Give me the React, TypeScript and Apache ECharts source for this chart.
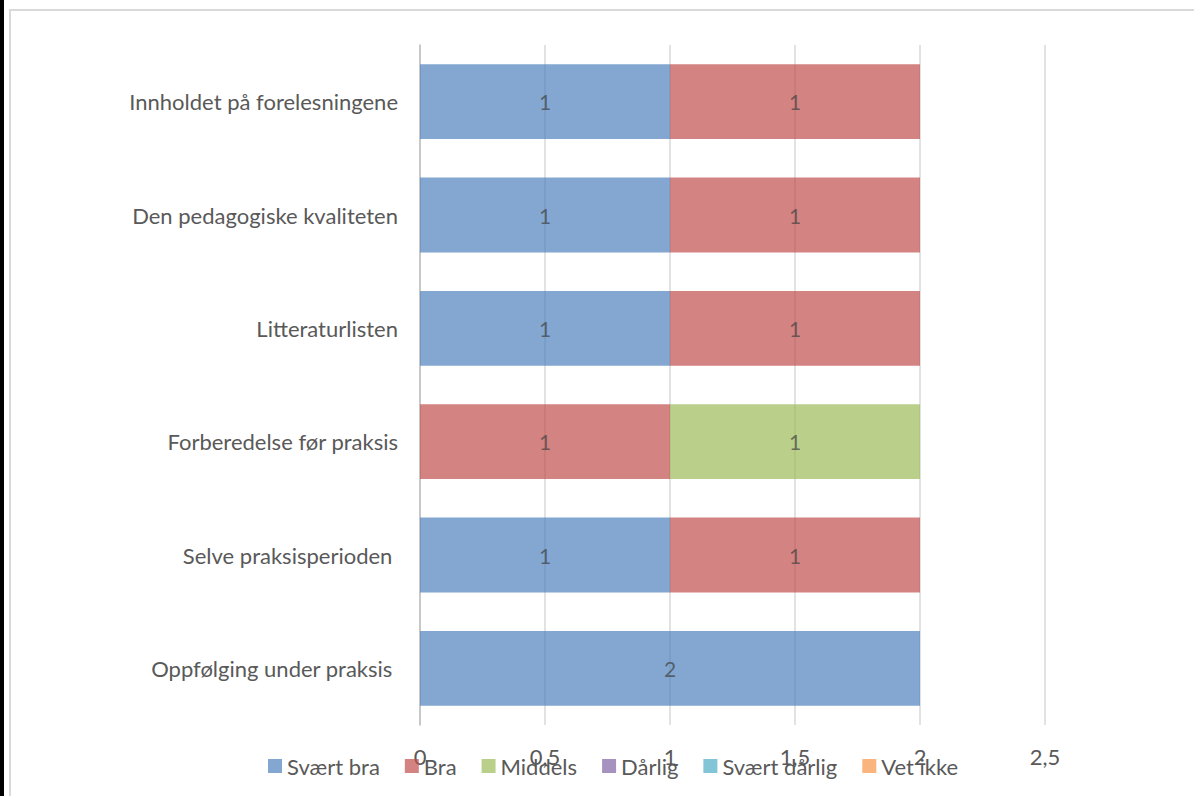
import React, { useEffect, useRef } from "react";
import * as echarts from "echarts";

const categories = [
  "Oppfølging under praksis\u00a0",
  "Selve praksisperioden\u00a0",
  "Forberedelse før praksis",
  "Litteraturlisten",
  "Den pedagogiske kvaliteten",
  "Innholdet på forelesningene",
];
const seriesNames = ["Svært bra", "Bra", "Middels", "Dårlig", "Svært dårlig", "Vet ikke"];
const svaertBra = [2, 1, 0, 1, 1, 1];
const bra = [0, 1, 1, 1, 1, 1];
const middels = [0, 0, 1, 0, 0, 0];
const darlig = [0, 0, 0, 0, 0, 0];
const svaertDarlig = [0, 0, 0, 0, 0, 0];
const vetIkke = [0, 0, 0, 0, 0, 0];
const seriesData = [svaertBra, bra, middels, darlig, svaertDarlig, vetIkke];
const colors = ["#4F81BD", "#C0504D", "#9BBB59", "#8064A2", "#4BACC6", "#F79646"];

const FONT = "Lato, 'Open Sans', sans-serif";

export default function App() {
  const ref = useRef<HTMLDivElement>(null);
  useEffect(() => {
    if (!ref.current) return;
    const chart = echarts.init(ref.current, undefined, { renderer: "svg" });
    chart.setOption({
      animation: false,
      backgroundColor: "#ffffff",
      textStyle: { fontFamily: FONT },
      graphic: [
        { type: "rect", shape: { x: 0, y: 0, width: 4, height: 796 }, style: { fill: "#000000" }, z: 100 },
        {
          type: "rect",
          shape: { x: 10, y: 10, width: 1200, height: 800 },
          style: { fill: "none", stroke: "#d9d9d9", lineWidth: 2 },
          z: 100,
        },
      ],
      grid: { left: 420, right: 149, top: 45, bottom: 71, containLabel: false },
      xAxis: {
        type: "value",
        min: 0,
        max: 2.5,
        interval: 0.5,
        axisLine: { show: false },
        axisTick: { show: false },
        splitLine: { show: true, lineStyle: { color: "#d9d9d9", width: 1.5 } },
        axisLabel: {
          color: "#595959",
          fontSize: 22,
          fontFamily: FONT,
          margin: 20,
          formatter: (v: number) => String(v).replace(".", ","),
        },
      },
      yAxis: {
        type: "category",
        data: categories,
        axisLine: { show: true, lineStyle: { color: "#bfbfbf", width: 1.5 } },
        axisTick: { show: false },
        axisLabel: { color: "#595959", fontSize: 22, fontFamily: FONT, margin: 22 },
      },
      legend: {
        data: seriesNames,
        left: 263,
        top: 750,
        itemWidth: 14,
        itemHeight: 14,
        itemGap: 25,
        icon: "rect",
        textStyle: { color: "#595959", fontSize: 22, fontFamily: FONT },
      },
      series: seriesNames.map((name, i) => ({
        name,
        type: "bar",
        stack: "total",
        barCategoryGap: "34%",
        data: seriesData[i],
        itemStyle: { color: colors[i], opacity: 0.7 },
        label: {
          show: true,
          position: "inside",
          color: "#404040",
          fontSize: 21,
          fontFamily: FONT,
          formatter: (p: any) => (p.value > 0 ? String(p.value) : ""),
        },
      })),
    });
    return () => chart.dispose();
  }, []);
  return (
    <div
      ref={ref}
      style={{ position: "fixed", left: 0, top: 0, width: 1194, height: 796 }}
    />
  );
}
